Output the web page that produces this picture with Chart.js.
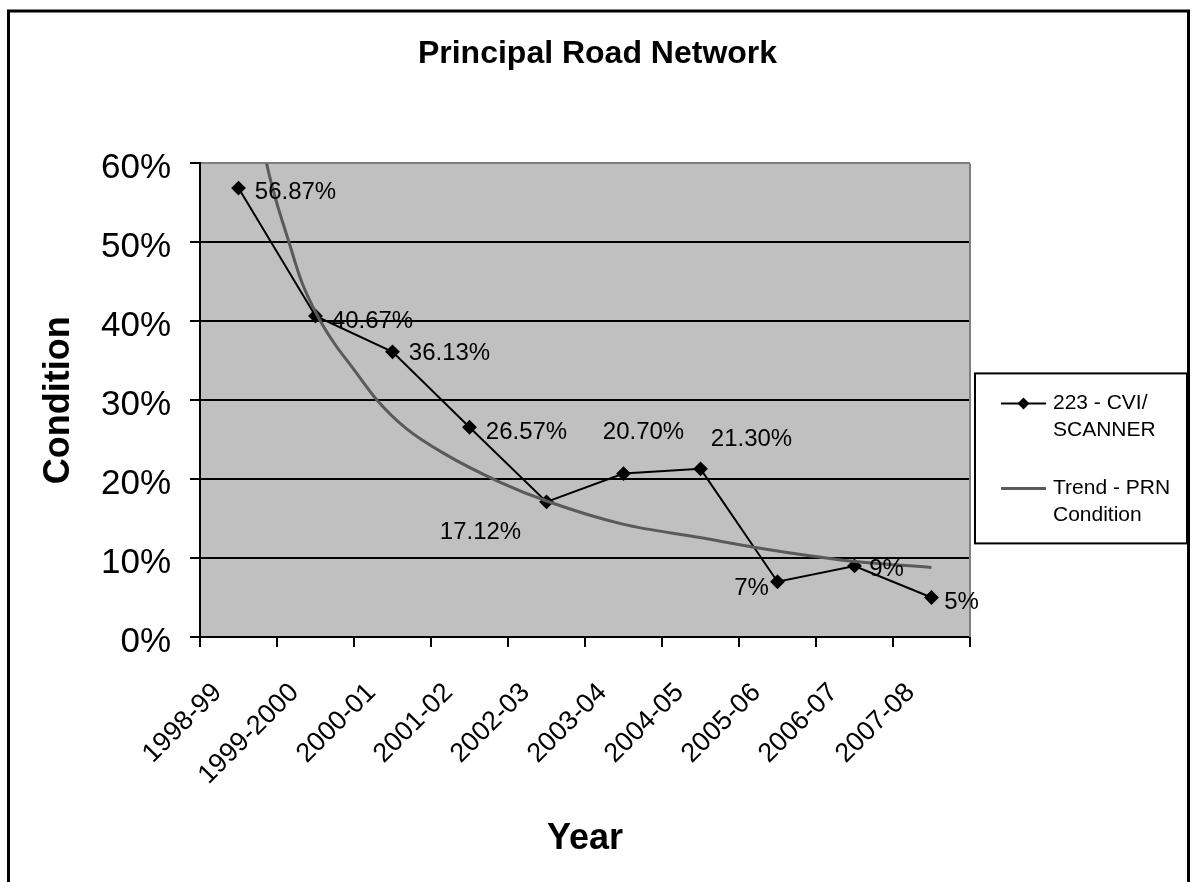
<!DOCTYPE html>
<html>
<head>
<meta charset="utf-8">
<title>Principal Road Network</title>
<script src="https://cdn.jsdelivr.net/npm/chart.js@4.4.1/dist/chart.umd.min.js"></script>
<style>
    html, body { margin: 0; padding: 0; background: #fff; }
    #wrap { width: 1195px; height: 882px; position: relative; }
</style>
</head>
<body>
<div id="wrap"><canvas id="roadChart"></canvas></div>
<script>
    // categories
    var years = ['1998-99', '1999-2000', '2000-01', '2001-02', '2002-03', '2003-04', '2004-05', '2005-06', '2006-07', '2007-08'];
    // 223 - CVI/SCANNER, condition in %
    var cviValues = [56.87, 40.67, 36.13, 26.57, 17.12, 20.70, 21.30, 7, 9, 5];
    // trendline, x in category units (0 = 1998-99)
    var trendX = [0, 0.36, 0.47, 0.65, 0.82, 1.02, 1.23, 1.49, 1.80, 2.18, 2.66, 3.40, 4.01, 4.99, 5.99, 7.00, 7.98, 9.0];
    var trendY = [79, 60.2, 55.9, 50.2, 45.0, 40.8, 37.4, 34.0, 30.0, 26.4, 23.3, 19.6, 17.2, 14.3, 12.6, 10.9, 9.6, 8.8];
    var yTicks = [0, 10, 20, 30, 40, 50, 60];
    var legendNames = [['223 - CVI/', 'SCANNER'], ['Trend - PRN', 'Condition']];

    // where each value label sits relative to its point (px)
    var labelShift = [[57, 4], [57, 5], [57, 2], [57, 5], [-66, 31], [20, -41], [51, -29], [-26, 7], [32, 3], [30, 5]];

    Chart.defaults.font.family = '"Liberation Sans", Arial, sans-serif';
    Chart.defaults.color = '#000';

    // grey plot area + outer frame
    var chartFrame = {
        id: 'chartFrame',
        beforeDraw: function (chart) {
            var ctx = chart.ctx, a = chart.chartArea;
            ctx.save();
            ctx.fillStyle = '#fff';
            ctx.fillRect(0, 0, chart.width, chart.height);
            ctx.fillStyle = '#c0c0c0';
            ctx.fillRect(a.left, a.top, a.right - a.left, a.bottom - a.top);
            ctx.lineWidth = 3;
            ctx.strokeStyle = '#000';
            ctx.strokeRect(8.5, 11, 1180, 1000);
            ctx.restore();
        },
        beforeDatasetsDraw: function (chart) {
            var ctx = chart.ctx, a = chart.chartArea;
            ctx.save();
            ctx.strokeStyle = '#808080';
            ctx.lineWidth = 2;
            ctx.beginPath();
            ctx.moveTo(a.right, a.top);
            ctx.lineTo(a.right, a.bottom);
            ctx.stroke();
            ctx.restore();
        }
    };

    var valueLabels = {
        id: 'valueLabels',
        afterDatasetsDraw: function (chart) {
            var ctx = chart.ctx;
            var meta = chart.getDatasetMeta(0);
            ctx.save();
            ctx.font = '24px "Liberation Sans", Arial, sans-serif';
            ctx.fillStyle = '#000';
            ctx.textAlign = 'center';
            ctx.textBaseline = 'middle';
            meta.data.forEach(function (pt, i) {
                var v = cviValues[i];
                var txt = (Number.isInteger(v) ? v : v.toFixed(2)) + '%';
                ctx.fillText(txt, pt.x + labelShift[i][0], pt.y + labelShift[i][1]);
            });
            ctx.restore();
        }
    };

    var boxLegend = {
        id: 'boxLegend',
        afterDraw: function (chart) {
            var ctx = chart.ctx, a = chart.chartArea;
            var bx = a.right + 5, by = a.top + 210, bw = 212, bh = 170;
            ctx.save();
            ctx.fillStyle = '#fff';
            ctx.fillRect(bx, by, bw, bh);
            ctx.strokeStyle = '#000';
            ctx.lineWidth = 2;
            ctx.strokeRect(bx, by, bw, bh);
            ctx.font = '21px "Liberation Sans", Arial, sans-serif';
            ctx.textAlign = 'left';
            ctx.textBaseline = 'middle';
            var rows = [by + 30, by + 115];
            var colors = ['#000', '#5a5a5a'];
            var widths = [2, 3];
            legendNames.forEach(function (lines, k) {
                var y = rows[k];
                ctx.strokeStyle = colors[k];
                ctx.lineWidth = widths[k];
                ctx.beginPath();
                ctx.moveTo(bx + 26, y);
                ctx.lineTo(bx + 71, y);
                ctx.stroke();
                if (k === 0) {
                    var cx = bx + 48.5;
                    ctx.fillStyle = '#000';
                    ctx.beginPath();
                    ctx.moveTo(cx, y - 6);
                    ctx.lineTo(cx + 6, y);
                    ctx.lineTo(cx, y + 6);
                    ctx.lineTo(cx - 6, y);
                    ctx.closePath();
                    ctx.fill();
                }
                ctx.fillStyle = '#000';
                lines.forEach(function (t, j) {
                    ctx.fillText(t, bx + 78, y + j * 27);
                });
            });
            ctx.restore();
        }
    };

    new Chart(document.getElementById('roadChart'), {
        type: 'line',
        data: {
            labels: years,
            datasets: [{
                label: '223 - CVI/ SCANNER',
                data: cviValues,
                xAxisID: 'x',
                yAxisID: 'y',
                borderColor: '#000',
                backgroundColor: '#000',
                borderWidth: 2,
                pointStyle: 'rectRot',
                pointRadius: 6,
                pointHoverRadius: 6,
                order: 1
            }, {
                label: 'Trend - PRN Condition',
                data: trendX.map(function (x, i) { return { x: x, y: trendY[i] }; }),
                xAxisID: 'xTrend',
                yAxisID: 'y',
                borderColor: '#5a5a5a',
                borderWidth: 3,
                pointRadius: 0,
                cubicInterpolationMode: 'monotone',
                order: 0
            }]
        },
        options: {
            responsive: true,
            maintainAspectRatio: false,
            animation: false,
            layout: { padding: { left: 10, right: 10, top: 0, bottom: 0 } },
            plugins: {
                legend: { display: false },
                tooltip: { enabled: false },
                title: {
                    display: true,
                    text: 'Principal Road Network',
                    color: '#000',
                    font: { size: 32, weight: 'bold' },
                    padding: { top: 35, bottom: 90 }
                }
            },
            scales: {
                x: {
                    type: 'category',
                    offset: true,
                    grid: { offset: true, drawOnChartArea: false, color: '#000', lineWidth: 2, tickLength: 10 },
                    border: { color: '#000', width: 2 },
                    ticks: { autoSkip: false, minRotation: 45, maxRotation: 45, padding: 30, labelOffset: -21, font: { size: 27 } },
                    title: { display: true, text: 'Year', font: { size: 36, weight: 'bold' }, padding: { top: 0, bottom: 21 } },
                    afterFit: function (s) { s.height = 245; }
                },
                xTrend: { type: 'linear', display: false, min: -0.5, max: 9.5 },
                y: {
                    min: 0,
                    max: 60,
                    afterBuildTicks: function (s) { s.ticks = yTicks.map(function (v) { return { value: v }; }); },
                    grid: {
                        color: function (c) { return c.tick && c.tick.value === 60 ? '#808080' : '#000'; },
                        tickColor: '#000',
                        lineWidth: 2,
                        tickLength: 10
                    },
                    border: { color: '#000', width: 2 },
                    ticks: { padding: 19, labelOffset: 5, font: { size: 35 }, callback: function (v) { return v + '%'; } },
                    title: { display: true, text: 'Condition', font: { size: 36, weight: 'bold' }, padding: { top: 27, bottom: 0 } },
                    afterFit: function (s) { s.width = 190; }
                },
                legendGap: {
                    type: 'linear',
                    position: 'right',
                    grid: { display: false },
                    border: { display: false },
                    ticks: { display: false },
                    afterFit: function (s) { s.width = 215; }
                }
            }
        },
        plugins: [chartFrame, valueLabels, boxLegend]
    });
</script>
</body>
</html>
